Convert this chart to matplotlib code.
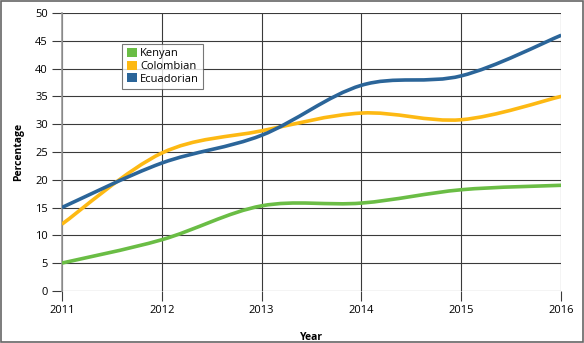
import numpy as np
import matplotlib.pyplot as plt
from matplotlib.path import Path
from matplotlib.patches import PathPatch, Patch, Rectangle

plt.rcParams["font.family"] = ["Open Sans", "DejaVu Sans"]

years = [2011, 2012, 2013, 2014, 2015, 2016]
kenyan = [5, 9.2, 15.3, 15.8, 18.2, 19]
colombian = [12, 24.8, 28.8, 32, 30.8, 35]
ecuadorian = [15, 23, 28, 37, 38.7, 46]

series = [
    ("Kenyan", kenyan, "#6abd45"),
    ("Colombian", colombian, "#fdb913"),
    ("Ecuadorian", ecuadorian, "#2b6599"),
]


def smooth_path(x, y, t=1 / 6):
    # Catmull-Rom style cubic Bezier through the data points
    x = np.asarray(x, float)
    y = np.asarray(y, float)
    verts = [(x[0], y[0])]
    codes = [Path.MOVETO]
    n = len(x)
    for i in range(n - 1):
        p0 = i - 1 if i > 0 else i
        p3 = i + 2 if i + 2 < n else i + 1
        c1 = (x[i] + (x[i + 1] - x[p0]) * t, y[i] + (y[i + 1] - y[p0]) * t)
        c2 = (x[i + 1] - (x[p3] - x[i]) * t, y[i + 1] - (y[p3] - y[i]) * t)
        verts += [c1, c2, (x[i + 1], y[i + 1])]
        codes += [Path.CURVE4] * 3
    return Path(verts, codes)


fig = plt.figure(figsize=(5.84, 3.43), dpi=100)
ax = fig.add_axes([0.106, 0.152, 0.855, 0.81])

for name, vals, col in series:
    ax.add_patch(PathPatch(smooth_path(years, vals), facecolor="none",
                           edgecolor=col, lw=2.6, capstyle="butt", zorder=3))

ax.set_xlim(2011, 2016)
ax.set_ylim(0, 50)
ax.set_xticks(years)
ax.set_yticks(range(0, 51, 5))
ax.grid(True, color="#3a3a3a", lw=0.8)
ax.set_axisbelow(True)
for s in ["top", "right", "bottom"]:
    ax.spines[s].set_visible(False)
ax.spines["left"].set_color("#999999")
ax.spines["left"].set_linewidth(1.2)
ax.tick_params(length=7, width=0.8, color="#3a3a3a", labelsize=8, pad=3)

ax.set_xlabel("Year", fontsize=7.5, fontweight="bold", labelpad=12)
ax.set_ylabel("Percentage", fontsize=7.5, fontweight="bold", labelpad=8)

handles = [Patch(facecolor=c, edgecolor="none", label=n) for n, _, c in series]
leg = ax.legend(handles=handles, loc="upper left", bbox_to_anchor=(0.11, 0.91),
                fontsize=8, frameon=True, fancybox=False, handlelength=0.9,
                handleheight=0.9, handletextpad=0.3, labelspacing=0.1,
                borderpad=0.4)
leg.get_frame().set_edgecolor("#555555")
leg.get_frame().set_linewidth(0.8)

fig.patches.append(Rectangle((0.002, 0.003), 0.996, 0.994, transform=fig.transFigure,
                             fill=False, edgecolor="#666666", lw=1.2))

fig.savefig("out.png", dpi=100)
